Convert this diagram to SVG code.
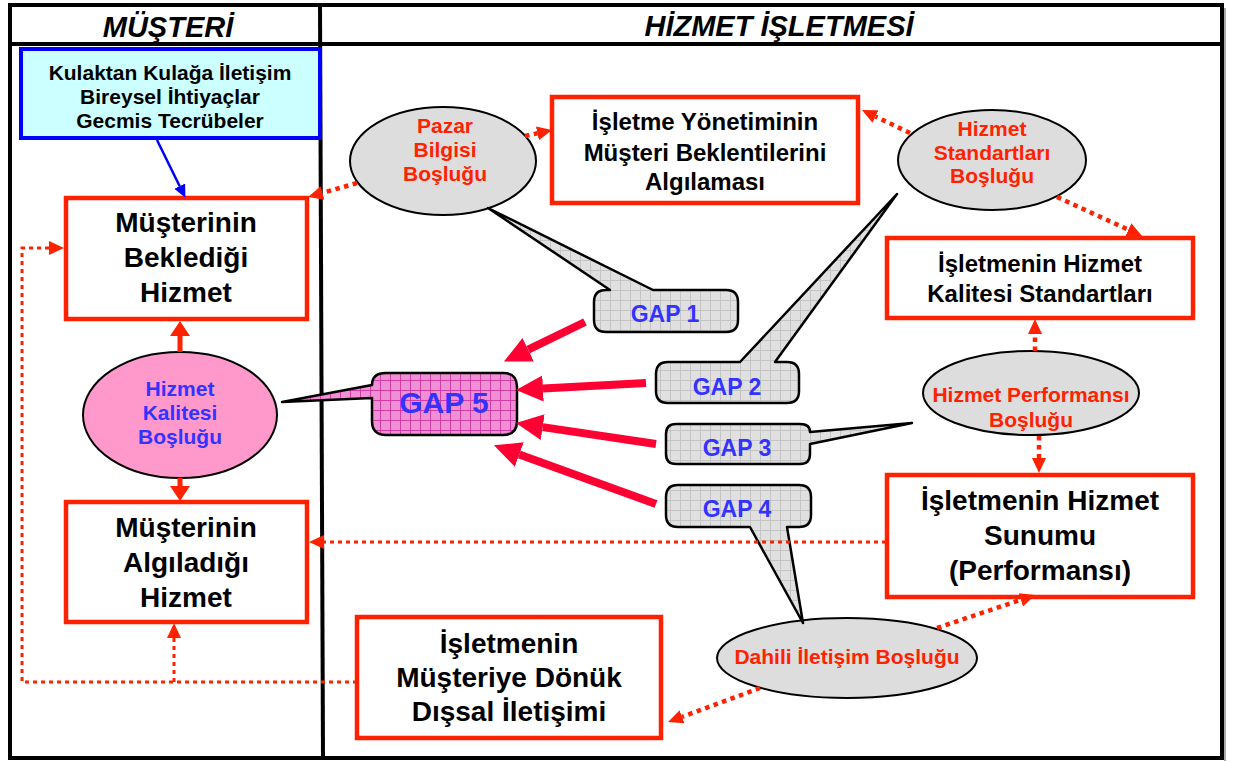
<svg xmlns="http://www.w3.org/2000/svg" width="1234" height="762" viewBox="0 0 1234 762">
  <defs>
    <style>
      text { font-family: "Liberation Sans", Arial, sans-serif; font-weight: bold; text-anchor: middle; }
      .hdr { font-size: 29px; font-style: italic; fill: #000; }
      .box { fill: #fff; stroke: #ff2200; stroke-width: 4.5; }
      .big { font-size: 28px; fill: #000; }
      .mid { font-size: 24px; fill: #000; }
      .src { font-size: 21px; fill: #000; }
      .gapEl { fill: #dddddd; stroke: #000; stroke-width: 2; }
      .elTxt { font-size: 21px; fill: #ff2200; }
      .gapLbl { font-size: 23px; fill: #3333ff; }
      .bubble { fill: url(#gridGray); stroke: #000; stroke-width: 2.5; stroke-linejoin: round; }
      .dot { fill: none; stroke: #ff2200; stroke-width: 4.5; stroke-dasharray: 4.5 4.5; }
      .dotThin { fill: none; stroke: #ff2200; stroke-width: 3; stroke-dasharray: 4 4; }
      .fat { stroke: #ff0033; stroke-width: 8; fill: none; }
    </style>
    <pattern id="gridGray" width="10" height="10" patternUnits="userSpaceOnUse">
      <rect width="10" height="10" fill="#e0e0e0"/>
      <path d="M0,0.5H10M0.5,0V10" stroke="#c4c4c4" stroke-width="1"/>
    </pattern>
    <pattern id="gridPink" width="10" height="10" patternUnits="userSpaceOnUse">
      <rect width="10" height="10" fill="#ef8fd4"/>
      <path d="M0,0.5H10M0.5,0V10" stroke="#d23ca6" stroke-width="1"/>
    </pattern>
    <marker id="headDot" markerUnits="userSpaceOnUse" viewBox="0 0 16 16" markerWidth="16" markerHeight="16" refX="0" refY="8" orient="auto">
      <path d="M0,1 L15,8 L0,15 z" fill="#ff2200"/>
    </marker>
    <marker id="headBig" markerUnits="userSpaceOnUse" viewBox="0 0 28 28" markerWidth="28" markerHeight="28" refX="0" refY="14" orient="auto">
      <path d="M0,1 L27,14 L0,27 z" fill="#ff0033"/>
    </marker>
    <marker id="headSolid" markerUnits="userSpaceOnUse" viewBox="0 0 16 22" markerWidth="16" markerHeight="22" refX="0" refY="11" orient="auto">
      <path d="M0,1 L15,11 L0,21 z" fill="#ff2200"/>
    </marker>
    <marker id="headBlue" markerUnits="userSpaceOnUse" viewBox="0 0 14 14" markerWidth="14" markerHeight="14" refX="0" refY="7" orient="auto">
      <path d="M0,1 L13,7 L0,13 z" fill="#0000ff"/>
    </marker>
  </defs>

  <rect width="1234" height="762" fill="#fff"/>

  <!-- frame: two swimlanes with a header row -->
  <g id="frame" fill="none" stroke="#000">
    <line x1="1225" y1="8" x2="1225" y2="761" stroke="#aaaaaa" stroke-width="2"/>
    <rect x="10" y="5" width="1212" height="753" stroke-width="4"/>
    <line x1="10" y1="44" x2="1222" y2="44" stroke-width="4"/>
    <line x1="320" y1="5" x2="323" y2="758" stroke-width="4"/>
  </g>
  <g id="lane-headers">
    <text class="hdr" x="168" y="37">MÜŞTERİ</text>
    <text class="hdr" x="779" y="36">HİZMET İŞLETMESİ</text>
  </g>

  <!-- customer lane -->
  <g id="sources">
    <rect x="21" y="49" width="299" height="89" fill="#ccffff" stroke="#0000ff" stroke-width="4"/>
    <text class="src" x="170" y="80">Kulaktan Kulağa İletişim</text>
    <text class="src" x="170" y="104">Bireysel İhtiyaçlar</text>
    <text class="src" x="170" y="128">Gecmis Tecrübeler</text>
  </g>
  <g id="expected-service">
    <rect class="box" x="66" y="198" width="241" height="121"/>
    <text class="big" x="186" y="232">Müşterinin</text>
    <text class="big" x="186" y="267">Beklediği</text>
    <text class="big" x="186" y="302">Hizmet</text>
  </g>
  <g id="quality-gap">
    <ellipse cx="180" cy="415" rx="97" ry="63" fill="#ff99cc" stroke="#000" stroke-width="2"/>
    <text x="180" y="396" font-size="21" fill="#3333ff">Hizmet</text>
    <text x="180" y="420" font-size="21" fill="#3333ff">Kalitesi</text>
    <text x="180" y="444" font-size="21" fill="#3333ff">Boşluğu</text>
  </g>
  <g id="perceived-service">
    <rect class="box" x="66" y="502" width="241" height="120"/>
    <text class="big" x="186" y="537">Müşterinin</text>
    <text class="big" x="186" y="572">Algıladığı</text>
    <text class="big" x="186" y="607">Hizmet</text>
  </g>

  <!-- provider lane -->
  <g id="management-perception">
    <rect class="box" x="552" y="97" width="306" height="106"/>
    <text class="mid" x="705" y="130">İşletme Yönetiminin</text>
    <text class="mid" x="705" y="161">Müşteri Beklentilerini</text>
    <text class="mid" x="705" y="190">Algılaması</text>
  </g>
  <g id="quality-standards">
    <rect class="box" x="887" y="238" width="306" height="80"/>
    <text class="mid" x="1040" y="272">İşletmenin Hizmet</text>
    <text class="mid" x="1040" y="302">Kalitesi Standartları</text>
  </g>
  <g id="service-delivery">
    <rect class="box" x="887" y="475" width="306" height="122"/>
    <text class="big" x="1040" y="510">İşletmenin Hizmet</text>
    <text class="big" x="1040" y="545">Sunumu</text>
    <text class="big" x="1040" y="580">(Performansı)</text>
  </g>
  <g id="external-communication">
    <rect class="box" x="357" y="617" width="304" height="121"/>
    <text class="big" x="509" y="653">İşletmenin</text>
    <text class="big" x="509" y="687">Müşteriye Dönük</text>
    <text class="big" x="509" y="721">Dışsal İletişimi</text>
  </g>

  <g id="market-info-gap">
    <ellipse class="gapEl" cx="443" cy="161" rx="93" ry="54"/>
    <text class="elTxt" x="445" y="133">Pazar</text>
    <text class="elTxt" x="445" y="157">Bilgisi</text>
    <text class="elTxt" x="445" y="181">Boşluğu</text>
  </g>
  <g id="standards-gap">
    <ellipse class="gapEl" cx="992" cy="160" rx="94" ry="50"/>
    <text class="elTxt" x="992" y="136">Hizmet</text>
    <text class="elTxt" x="992" y="160">Standartları</text>
    <text class="elTxt" x="992" y="183">Boşluğu</text>
  </g>
  <g id="performance-gap">
    <ellipse class="gapEl" cx="1031" cy="393" rx="108" ry="42"/>
    <text class="elTxt" x="1031" y="402">Hizmet Performansı</text>
    <text class="elTxt" x="1031" y="427">Boşluğu</text>
  </g>
  <g id="internal-communication-gap">
    <ellipse class="gapEl" cx="847" cy="658" rx="130" ry="40"/>
    <text class="elTxt" x="847" y="664">Dahili İletişim Boşluğu</text>
  </g>

  <!-- gap callouts -->
  <g id="gap1">
    <path class="bubble" d="M606,290 L610,290 L488,208 L653,290 L726,290 Q738,290 738,302 L738,320 Q738,332 726,332 L606,332 Q594,332 594,320 L594,302 Q594,290 606,290 Z"/>
    <text class="gapLbl" x="665" y="322">GAP 1</text>
  </g>
  <g id="gap2">
    <path class="bubble" d="M668,362 L740,362 L897,194 L775,362 L787,362 Q799,362 799,374 L799,391 Q799,403 787,403 L668,403 Q656,403 656,391 L656,374 Q656,362 668,362 Z"/>
    <text class="gapLbl" x="727" y="395">GAP 2</text>
  </g>
  <g id="gap3">
    <path class="bubble" d="M676,424 L800,424 Q810,424 810,432 L912,423 L810,444 L810,454 Q810,464 800,464 L676,464 Q666,464 666,454 L666,434 Q666,424 676,424 Z"/>
    <text class="gapLbl" x="737" y="456">GAP 3</text>
  </g>
  <g id="gap4">
    <path class="bubble" d="M678,485 L799,485 Q811,485 811,497 L811,515 Q811,527 799,527 L787,527 L803,623 L750,527 L678,527 Q666,527 666,515 L666,497 Q666,485 678,485 Z"/>
    <text class="gapLbl" x="737" y="517">GAP 4</text>
  </g>
  <g id="gap5">
    <path d="M386,373 L503,373 Q517,373 517,387 L517,421 Q517,435 503,435 L386,435 Q372,435 372,421 L372,398 L282,402 L372,385 Q372,373 386,373 Z" fill="url(#gridPink)" stroke="#000" stroke-width="2.5" stroke-linejoin="round"/>
    <text x="444" y="413" font-size="30" fill="#3333ff">GAP 5</text>
  </g>

  <!-- connectors -->
  <g id="connectors">
    <line x1="157" y1="140" x2="179.7" y2="186.2" stroke="#0000ff" stroke-width="2.5" marker-end="url(#headBlue)"/>
    <line x1="180" y1="352" x2="180" y2="336" stroke="#ff2200" stroke-width="5" marker-end="url(#headSolid)"/>
    <line x1="180" y1="478" x2="180" y2="486" stroke="#ff2200" stroke-width="5" marker-end="url(#headSolid)"/>

    <line class="dot" x1="357" y1="183" x2="322.5" y2="192.9" marker-end="url(#headDot)"/>
    <line class="dot" x1="525" y1="136" x2="537.4" y2="133.3" marker-end="url(#headDot)"/>
    <line class="dot" x1="910" y1="133" x2="875.5" y2="116.5" marker-end="url(#headDot)"/>
    <line class="dot" x1="1057" y1="197" x2="1128.4" y2="229.7" marker-end="url(#headDot)"/>
    <line class="dot" x1="1035" y1="351" x2="1035" y2="334" marker-end="url(#headDot)"/>
    <line class="dot" x1="1039" y1="436" x2="1039" y2="458" marker-end="url(#headDot)"/>
    <line class="dot" x1="937" y1="628" x2="1020.8" y2="599.8" marker-end="url(#headDot)"/>
    <line class="dot" x1="760" y1="688" x2="682.1" y2="716.8" marker-end="url(#headDot)"/>

    <line class="dotThin" x1="886" y1="542" x2="324" y2="542" marker-end="url(#headDot)"/>
    <polyline class="dotThin" points="357,682 22,682 22,248 49,248" marker-end="url(#headDot)"/>
    <line class="dotThin" x1="174" y1="682" x2="174" y2="638" marker-end="url(#headDot)"/>

    <line class="fat" x1="585" y1="322" x2="528.2" y2="349.7" marker-end="url(#headBig)"/>
    <line class="fat" x1="646" y1="383" x2="543" y2="388.5" marker-end="url(#headBig)"/>
    <line class="fat" x1="656" y1="444" x2="542.7" y2="427.1" marker-end="url(#headBig)"/>
    <line class="fat" x1="656" y1="504" x2="519.3" y2="454.5" marker-end="url(#headBig)"/>
  </g>
</svg>
